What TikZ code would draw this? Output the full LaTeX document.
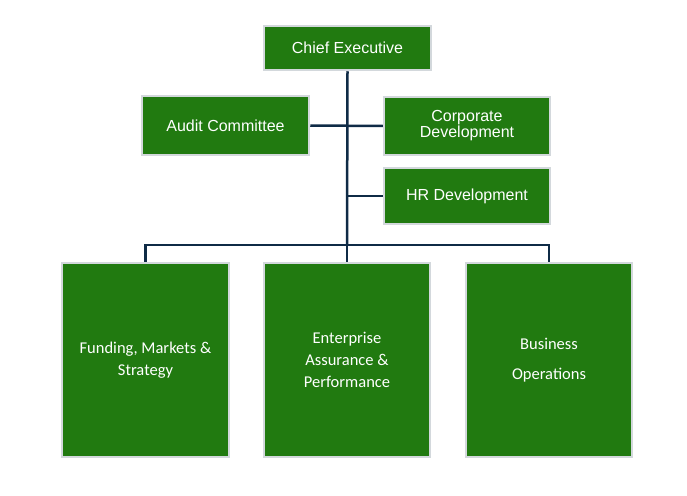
\documentclass[tikz,border=0pt]{standalone}
\usepackage{fontspec}
\setmainfont{Liberation Sans}
\newfontfamily\carl{Carlito}
\definecolor{boxg}{HTML}{217A10}
\definecolor{edge}{HTML}{D3D8DC}
\definecolor{navy}{HTML}{0F2B46}
\begin{document}
\begin{tikzpicture}[x=1pt,y=-1pt,
  gbox/.style={draw=edge,line width=2.5pt,fill=boxg,text=white,align=center,inner sep=0pt},
  topf/.style={font=\fontsize{16}{18}\selectfont},
  botf/.style={font=\carl\fontsize{16.5}{22}\selectfont},
  conn/.style={draw=navy,line width=2.5pt}]
\useasboundingbox (0,0) rectangle (687,495);
\node[gbox,topf,minimum width=167pt,minimum height=44pt] (ce) at (347.5,48) {Chief Executive};
\node[gbox,topf,minimum width=167pt,minimum height=59pt] (ac) at (225.5,125.5) {Audit Committee};
\node[gbox,topf,minimum width=166pt,minimum height=58pt] (cd) at (467,126) {Corporate\\[-2pt]Development};
\node[gbox,topf,minimum width=166pt,minimum height=56pt] (hr) at (467,196) {HR Development};
\node[gbox,botf,minimum width=167pt,minimum height=194pt] (fm) at (145.5,360) {Funding, Markets \&\\Strategy};
\node[gbox,botf,minimum width=166pt,minimum height=194pt] (ea) at (347,360) {Enterprise\\Assurance \&\\Performance};
\node[gbox,botf,minimum width=166pt,minimum height=194pt] (bo) at (549,360) {Business\\[8pt]Operations};
\coordinate (j) at (347,245);
\draw[conn] (ce.south) -- (j);
\draw[conn] (ac.east) -- (cd.west);
\draw[conn] (347,196) -- (hr.west);
\draw[conn] (fm.north) -- (145.5,245) -- (549,245) -- (bo.north);
\draw[conn] (j) -- (ea.north);
\end{tikzpicture}
\end{document}
